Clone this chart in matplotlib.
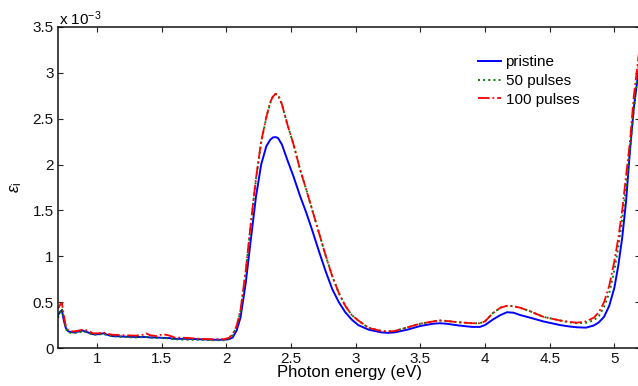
import numpy as np
import matplotlib
matplotlib.use('Agg')
import matplotlib.pyplot as plt
from matplotlib.ticker import FuncFormatter

plt.rcParams['font.family'] = ['Liberation Sans', 'DejaVu Sans']
plt.rcParams['mathtext.fontset'] = 'custom'
plt.rcParams['mathtext.rm'] = 'Liberation Sans'
plt.rcParams['mathtext.it'] = 'Liberation Sans:italic'

# photon energy grid (eV)
energy = [0.70, 0.72, 0.73, 0.745, 0.76, 0.78, 0.82, 0.86, 0.89, 0.93,
          0.97, 1.01, 1.05, 1.08, 1.12, 1.2, 1.3, 1.36, 1.38, 1.41,
          1.46, 1.51, 1.55, 1.6, 1.7, 1.8, 1.9,
          1.98, 2.02, 2.05, 2.08, 2.11, 2.15, 2.19, 2.23, 2.27, 2.31,
          2.34, 2.36, 2.38, 2.40, 2.43, 2.47, 2.52, 2.57, 2.62, 2.67,
          2.72, 2.77, 2.82, 2.87, 2.92, 2.97, 3.02, 3.1, 3.2,
          3.25, 3.3, 3.4, 3.5, 3.6, 3.65,
          3.7, 3.8, 3.9, 3.96, 4.0, 4.06, 4.12, 4.17, 4.22, 4.27,
          4.35, 4.45, 4.58, 4.65,
          4.71, 4.78, 4.84, 4.88, 4.92, 4.96, 5.0, 5.03, 5.06, 5.09,
          5.12, 5.15, 5.18, 5.2]

# epsilon_i values, in units of 1e-3
pristine = [0.36, 0.40, 0.41, 0.30, 0.22, 0.18, 0.17, 0.18, 0.19, 0.17,
            0.15, 0.15, 0.16, 0.145, 0.13, 0.125, 0.12, 0.12, 0.12, 0.115,
            0.115, 0.11, 0.11, 0.10, 0.10, 0.095, 0.09,
            0.09, 0.095, 0.115, 0.19, 0.33, 0.70, 1.18, 1.65, 2.00, 2.20,
            2.27, 2.295, 2.30, 2.29, 2.22, 2.06, 1.87, 1.66, 1.47, 1.26,
            1.04, 0.83, 0.64, 0.50, 0.39, 0.31, 0.25, 0.20, 0.17,
            0.165, 0.17, 0.20, 0.24, 0.265, 0.27,
            0.265, 0.245, 0.23, 0.23, 0.25, 0.31, 0.36, 0.39, 0.385, 0.36,
            0.33, 0.29, 0.25, 0.235,
            0.226, 0.222, 0.245, 0.28, 0.34, 0.46, 0.66, 0.90, 1.20, 1.60,
            2.15, 2.62, 2.95, 3.15]

pulses50 = [0.33, 0.40, 0.43, 0.33, 0.21, 0.17, 0.16, 0.17, 0.18, 0.17,
            0.145, 0.145, 0.155, 0.14, 0.13, 0.12, 0.115, 0.12, 0.12, 0.115,
            0.11, 0.11, 0.105, 0.095, 0.09, 0.09, 0.085,
            0.085, 0.10, 0.14, 0.23, 0.40, 0.82, 1.35, 1.84, 2.24, 2.51,
            2.67, 2.74, 2.77, 2.76, 2.66, 2.45, 2.22, 1.95, 1.72, 1.48,
            1.24, 1.00, 0.78, 0.60, 0.46, 0.36, 0.30, 0.22, 0.185,
            0.18, 0.185, 0.225, 0.265, 0.29, 0.30,
            0.295, 0.28, 0.27, 0.27, 0.29, 0.38, 0.44, 0.46, 0.455, 0.44,
            0.40, 0.34, 0.30, 0.28,
            0.27, 0.275, 0.30, 0.35, 0.45, 0.60, 0.85, 1.10, 1.40, 1.75,
            2.15, 2.60, 3.00, 3.25]

pulses100 = [0.43, 0.48, 0.49, 0.36, 0.24, 0.19, 0.18, 0.19, 0.20, 0.19,
             0.16, 0.16, 0.17, 0.155, 0.145, 0.14, 0.135, 0.145, 0.16, 0.14,
             0.13, 0.15, 0.14, 0.115, 0.11, 0.10, 0.095,
             0.095, 0.11, 0.15, 0.24, 0.41, 0.83, 1.36, 1.85, 2.25, 2.52,
             2.68, 2.74, 2.77, 2.76, 2.66, 2.45, 2.22, 1.95, 1.72, 1.48,
             1.24, 1.00, 0.78, 0.60, 0.46, 0.36, 0.30, 0.22, 0.185,
             0.18, 0.185, 0.225, 0.265, 0.29, 0.30,
             0.295, 0.28, 0.27, 0.27, 0.29, 0.38, 0.44, 0.46, 0.455, 0.44,
             0.40, 0.34, 0.30, 0.285,
             0.276, 0.29, 0.33, 0.39, 0.50, 0.68, 0.95, 1.20, 1.50, 1.88,
             2.25, 2.75, 3.10, 3.35]

labels = ['pristine', '50 pulses', '100 pulses']

scale = 1e-3
x = np.array(energy)

fig = plt.figure(figsize=(6.38, 3.86), dpi=100)
ax = fig.add_axes([58 / 638, 38 / 386, 582.3 / 638, 321 / 386])

ax.plot(x, np.array(pristine) * scale, color='#0000ff', lw=1.4, ls='-', label=labels[0])
ax.plot(x, np.array(pulses50) * scale, color='#008000', lw=1.4, ls=':', label=labels[1])
ax.plot(x, np.array(pulses100) * scale, color='#ff0000', lw=1.3, ls='-.', label=labels[2])

ax.set_xlim(0.7, 5.2)
ax.set_ylim(0, 3.5e-3)
ax.set_xticks([1, 1.5, 2, 2.5, 3, 3.5, 4, 4.5, 5])
ax.set_yticks(np.arange(0, 3.51, 0.5) * scale)
ax.xaxis.set_major_formatter(FuncFormatter(lambda v, p: '%g' % v))
ax.yaxis.set_major_formatter(FuncFormatter(lambda v, p: '%g' % round(v / scale, 2)))
ax.tick_params(direction='in', length=3.5, width=0.8, top=True, right=True,
               labelsize=11, pad=3, colors='#222222', labelcolor='#111111')
for s in ax.spines.values():
    s.set_linewidth(1.1)
    s.set_color('#111111')

ax.set_xlabel('Photon energy (eV)', fontsize=12, labelpad=-1)
ax.set_ylabel(r'$\varepsilon_\mathrm{i}$', fontsize=12, labelpad=6)
fig.text(59 / 638, (386 - 28) / 386, r'x 10$^{-3}$', fontsize=11, ha='left', va='bottom')

ax.legend(loc='upper left', bbox_to_anchor=(478 / 638, (386 - 55) / 386),
          bbox_transform=fig.transFigure, frameon=False, fontsize=11,
          handlelength=1.5, handletextpad=0.3, labelspacing=0.32,
          borderpad=0, borderaxespad=0)

fig.savefig('out.png', dpi=100)
